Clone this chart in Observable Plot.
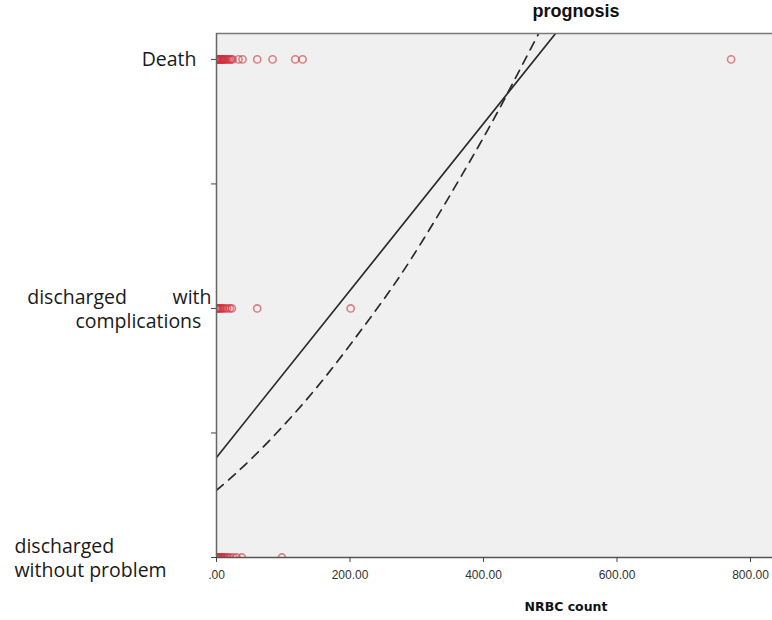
<!DOCTYPE html>
<html><head><meta charset="utf-8">
<script src="https://cdn.jsdelivr.net/npm/d3@7"></script>
<script src="https://cdn.jsdelivr.net/npm/@observablehq/plot@0.6"></script>
<style>
body{margin:0;background:#fff;}
#wrap{position:relative;width:772px;height:620px;overflow:hidden;}
#title{position:absolute;top:1px;left:576px;transform:translateX(-50%);font:bold 18px "Liberation Sans",Arial,sans-serif;color:#111;white-space:nowrap;}
#xlabel{position:absolute;top:599px;left:566px;transform:translateX(-50%);font:bold 12.5px "DejaVu Sans",sans-serif;color:#111;white-space:nowrap;}
#chart svg{display:block;}
</style></head><body>
<div id="wrap"><div id="chart"></div><div id="title">prognosis</div><div id="xlabel">NRBC count</div></div>
<script>
// Outcome categories (y = 0, 1, 2)
const outcomeLabels = ["discharged\nwithout problem", "discharged\u00a0\u00a0\u00a0\u00a0\u00a0\u00a0\u00a0\u00a0\u00a0with\ncomplications\u00a0\u00a0", "Death"];
// NRBC counts observed in each outcome group
const noProblemNRBC = [0, 0, 1, 2, 3, 4, 5, 6, 7, 8, 10, 12, 14, 17, 20, 25, 30, 38, 98];
const complicationsNRBC = [0, 1, 2, 3, 5, 6, 8, 10, 13, 16, 20, 23, 61, 201];
const deathNRBC = [0, 0, 1, 2, 3, 4, 5, 6, 7, 8, 9, 10, 11, 12, 14, 16, 18, 20, 22, 24, 33, 39, 61, 84, 118, 129, 771];
// Fit lines
const linearFitX = [0, 508];
const linearFitY = [0.402, 2.104];
const quadFitX = [0, 40, 97, 160, 220, 276, 340, 405, 443, 482];
const quadFitY = [0.27, 0.365, 0.52, 0.715, 0.925, 1.135, 1.41, 1.71, 1.90, 2.10];
// Axis ticks
const xTicks = [0, 200, 400, 600, 800];
const yTicks = [0, 0.5, 1, 1.5, 2];
const xDomain = [0, 833];
const yDomain = [0, 2.104];

const points = [
  ...noProblemNRBC.map(v => ({nrbc: v, outcome: 0})),
  ...complicationsNRBC.map(v => ({nrbc: v, outcome: 1})),
  ...deathNRBC.map(v => ({nrbc: v, outcome: 2}))
];
const linear = linearFitX.map((x, i) => ({x, y: linearFitY[i]}));
const quad = quadFitX.map((x, i) => ({x, y: quadFitY[i]}));

const labelFont = "'Open Sans', sans-serif";
const chart = Plot.plot({
  width: 772, height: 620,
  marginLeft: 216, marginRight: 0, marginTop: 33, marginBottom: 63,
  style: {background: "#fff", fontFamily: labelFont, overflow: "visible"},
  x: {domain: xDomain},
  y: {domain: yDomain},
  marks: [
    Plot.frame({fill: "#f0f0f0", stroke: null}),
    Plot.line(linear, {x: "x", y: "y", stroke: "#2a2a2a", strokeWidth: 1.7, clip: true}),
    Plot.line(quad, {x: "x", y: "y", curve: "natural", stroke: "#2a2a2a", strokeWidth: 1.7, strokeDasharray: "9,7", clip: true}),
    Plot.dot(points, {x: "nrbc", y: "outcome", r: 3.6, stroke: "#d0303c", strokeOpacity: 0.6, strokeWidth: 1.6, fill: "none", clip: true}),
    Plot.ruleY([yDomain[1]], {stroke: "#7a7a7a", strokeWidth: 1.5}),
    Plot.ruleX([xDomain[0]], {stroke: "#666", strokeWidth: 1.5}),
    Plot.ruleY([yDomain[0]], {stroke: "#555", strokeWidth: 1.5}),
    Plot.axisY({ticks: yTicks, tickSize: 5, stroke: "#444", tickFormat: () => "", label: null}),
    Plot.axisY({ticks: [2], tickFormat: d => outcomeLabels[d], tickSize: 0, tickPadding: 20, fontSize: 19.5, fill: "#1a1a1a", label: null}),
    Plot.axisY({ticks: [1], tickFormat: d => outcomeLabels[d], tickSize: 0, tickPadding: 5, fontSize: 19.5, lineHeight: 1.2, fill: "#1a1a1a", label: null}),
    Plot.axisY({ticks: [0], tickFormat: d => outcomeLabels[d], tickSize: 0, tickPadding: 202, textAnchor: "start", fontSize: 19.5, lineHeight: 1.2, fill: "#1a1a1a", label: null}),
    Plot.axisX({ticks: xTicks, tickSize: 5, tickPadding: 8, stroke: "#444", tickFormat: d => d === 0 ? ".00" : d.toFixed(2), label: null, fontSize: 12, fontFamily: "'Liberation Sans', sans-serif", fill: "#333"})
  ]
});
document.getElementById("chart").appendChild(chart);
</script>
</body></html>
